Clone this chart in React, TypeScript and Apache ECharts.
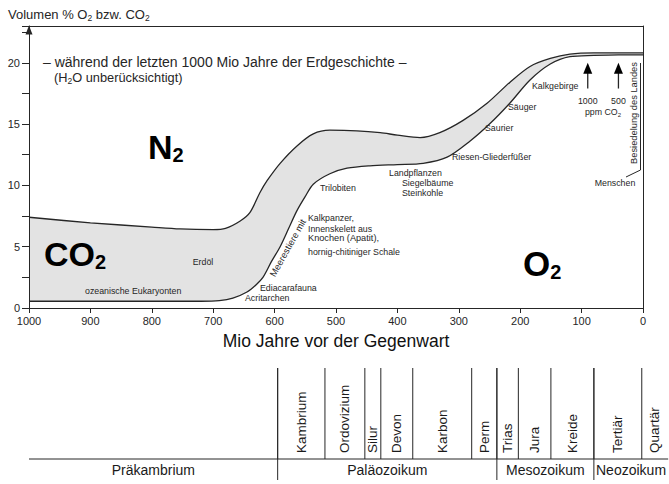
import React, { useEffect, useRef } from 'react';
import * as echarts from 'echarts';

// ---------- data ----------
// Upper boundary of grey band = O2 + CO2 (Mio Jahre vor heute -> Volumen %)
const upperMa = [1000, 900, 800, 754, 700, 680, 656, 640, 624, 612, 591, 564, 537, 510, 466, 428, 400, 363, 331, 293, 254, 217, 184, 151, 119, 80, 40, 0];
const upperVal = [7.4, 6.95, 6.6, 6.45, 6.4, 6.5, 7.1, 7.8, 9.4, 10.4, 11.8, 13.2, 14.2, 14.5, 14.45, 14.3, 14.1, 13.9, 14.3, 15.3, 16.7, 18.4, 19.7, 20.35, 20.7, 20.8, 20.8, 20.8];
// Lower boundary = O2
const lowerMa = [1000, 900, 800, 720, 690, 668, 645, 630, 619, 605, 591, 577, 564, 550, 537, 510, 482, 445, 400, 358, 319, 282, 250, 217, 184, 151, 119, 80, 40, 0];
const lowerVal = [0.55, 0.55, 0.55, 0.55, 0.6, 0.8, 1.3, 1.9, 2.5, 3.8, 5.0, 6.5, 7.9, 9.1, 10.1, 10.95, 11.4, 11.6, 11.7, 11.8, 12.3, 13.6, 15.0, 16.7, 18.6, 19.9, 20.5, 20.6, 20.65, 20.65];

// ppm CO2 arrows
const ppmLabels = ['1000', '500'];
const ppmMa = [90, 40];
const ppmBaseVal = 17.9;
const ppmTipVal = 20.0;

// Geological time scale
const periodNames = ['Kambrium', 'Ordovizium', 'Silur', 'Devon', 'Karbon', 'Perm', 'Trias', 'Jura', 'Kreide', 'Tertiär', 'Quartär'];
const periodStart = [595, 518, 453, 427, 375, 279, 238, 203, 150, 80, 2];
const eraNames = ['Präkambrium', 'Paläozoikum', 'Mesozoikum', 'Neozoikum'];
const eraStart = [1000, 595, 238, 80];
const tableEndMa = -41;

const xTicks = { min: 0, max: 1000, interval: 100 };
const yTicks = { min: 0, max: 23, interval: 2.5, labelEvery: 5 };

// ---------- styling ----------
const FONT = '"Liberation Sans", Arial, Helvetica, sans-serif';
const INK = '#262626';
const BAND = '#e3e3e3';
const ZTOP = 100;

const periodEnd = periodStart.map((_, i) => (i < periodStart.length - 1 ? periodStart[i + 1] : tableEndMa));
const eraEnd = eraStart.map((_, i) => (i < eraStart.length - 1 ? eraStart[i + 1] : tableEndMa));

function txt(text: string, x: number, y: number, size = 8.8, extra: any = {}, rotation = 0) {
  return {
    type: 'text',
    x,
    y,
    z: ZTOP,
    rotation,
    silent: true,
    style: {
      text,
      fontSize: size,
      fontFamily: FONT,
      fill: INK,
      align: 'left',
      verticalAlign: 'middle',
      ...extra,
    },
  };
}

function subText(parts: string[], x: number, y: number, size: number, subSize: number, align = 'left', lh = 16, subLh = 8) {
  const text = parts.map((p, i) => (i % 2 === 0 ? (p ? `{a|${p}}` : '') : `{s|${p}}`)).join('');
  return {
    type: 'text',
    x,
    y,
    z: ZTOP,
    silent: true,
    style: {
      text,
      fill: INK,
      align,
      verticalAlign: 'middle',
      rich: {
        a: { fontSize: size, fontFamily: FONT, lineHeight: lh, fill: INK },
        s: { fontSize: subSize, fontFamily: FONT, lineHeight: subLh, verticalAlign: 'bottom', fill: INK },
      },
    },
  };
}

function chem(base: string, x: number, y: number, size: number, subSize: number) {
  return {
    type: 'text',
    x,
    y,
    z: ZTOP,
    silent: true,
    style: {
      text: `{b|${base}}{s|2}`,
      fill: '#000',
      fontFamily: FONT,
      align: 'left',
      verticalAlign: 'middle',
      rich: {
        b: { fontSize: size, fontWeight: 'bold', fontFamily: FONT, lineHeight: size + 2, fill: '#000' },
        s: { fontSize: subSize, fontWeight: 'bold', fontFamily: FONT, lineHeight: 14, verticalAlign: 'bottom', fill: '#000' },
      },
    },
  };
}

function buildOption(): any {
  const axisLineStyle = { color: INK, width: 1 };
  return {
    animation: false,
    backgroundColor: '#fff',
    grid: [
      { left: 29, right: 26, top: 26, bottom: 176 },
      { left: 29, right: 26, top: 368, bottom: 4 },
    ],
    xAxis: [
      {
        gridIndex: 0,
        type: 'value',
        min: xTicks.min,
        max: xTicks.max,
        interval: xTicks.interval,
        inverse: true,
        position: 'bottom',
        z: 5,
        axisLine: { onZero: false, lineStyle: axisLineStyle },
        axisTick: { length: 5, lineStyle: { color: INK } },
        axisLabel: { color: INK, fontSize: 11, fontFamily: FONT, margin: 7, formatter: (v: number) => String(v) },
        splitLine: { show: false },
        name: 'Mio Jahre vor der Gegenwart',
        nameLocation: 'middle',
        nameGap: 24,
        nameTextStyle: { fontSize: 17.5, color: '#111', fontFamily: FONT },
      },
      {
        gridIndex: 0,
        type: 'value',
        min: xTicks.min,
        max: xTicks.max,
        inverse: true,
        position: 'top',
        z: 5,
        axisLine: { show: true, onZero: false, lineStyle: axisLineStyle },
        axisTick: { show: false },
        axisLabel: { show: false },
        splitLine: { show: false },
      },
      { gridIndex: 1, type: 'value', min: xTicks.min, max: xTicks.max, inverse: true, show: false },
    ],
    yAxis: [
      {
        gridIndex: 0,
        type: 'value',
        min: yTicks.min,
        max: yTicks.max,
        interval: yTicks.interval,
        position: 'left',
        z: 5,
        axisLine: {
          onZero: false,
          lineStyle: axisLineStyle,
          symbol: ['none', 'triangle'],
          symbolSize: [7, 9],
          symbolOffset: [0, -4],
        },
        axisTick: { length: 7, lineStyle: { color: INK } },
        axisLabel: {
          color: INK,
          fontSize: 11,
          fontFamily: FONT,
          margin: 9,
          formatter: (v: number) => (v % yTicks.labelEvery === 0 ? String(v) : ''),
        },
        splitLine: { show: false },
      },
      {
        gridIndex: 0,
        type: 'value',
        min: yTicks.min,
        max: yTicks.max,
        position: 'right',
        z: 5,
        axisLine: { show: true, onZero: false, lineStyle: axisLineStyle },
        axisTick: { show: false },
        axisLabel: { show: false },
        splitLine: { show: false },
      },
      { gridIndex: 1, type: 'value', min: 0, max: 112, inverse: true, show: false },
    ],
    series: [
      {
        type: 'line',
        xAxisIndex: 0,
        yAxisIndex: 0,
        data: upperMa.map((m, i) => [m, upperVal[i]]),
        smooth: 0.3,
        symbol: 'none',
        lineStyle: { color: INK, width: 1.3 },
        areaStyle: { color: BAND, opacity: 1, origin: 'start' },
        z: 2,
      },
      {
        type: 'line',
        xAxisIndex: 0,
        yAxisIndex: 0,
        data: lowerMa.map((m, i) => [m, lowerVal[i]]),
        smooth: 0.3,
        symbol: 'none',
        lineStyle: { color: INK, width: 1.3 },
        areaStyle: { color: '#fff', opacity: 1, origin: 'start' },
        z: 3,
      },
      {
        type: 'custom',
        xAxisIndex: 0,
        yAxisIndex: 0,
        z: 6,
        encode: { x: 0, y: 1 },
        data: ppmMa.map((m, i) => [m, i]),
        renderItem: (params: any, api: any) => {
          const i = api.value(1);
          const tip = api.coord([api.value(0), ppmTipVal]);
          const base = api.coord([api.value(0), ppmBaseVal]);
          return {
            type: 'group',
            children: [
              { type: 'line', shape: { x1: base[0], y1: base[1], x2: tip[0], y2: tip[1] + 9 }, style: { stroke: INK, lineWidth: 1.3 } },
              { type: 'polygon', shape: { points: [[tip[0], tip[1]], [tip[0] - 4.5, tip[1] + 11], [tip[0] + 4.5, tip[1] + 11]] }, style: { fill: '#000' } },
              { type: 'text', x: base[0], y: base[1] + 12, style: { text: ppmLabels[i], fontSize: 8.8, fontFamily: FONT, fill: INK, align: 'center', verticalAlign: 'middle' } },
            ],
          };
        },
      },
      {
        type: 'custom',
        xAxisIndex: 2,
        yAxisIndex: 2,
        encode: { x: 0, y: 2 },
        data: periodNames.map((_, i) => [periodStart[i], periodEnd[i], i]),
        renderItem: (params: any, api: any) => {
          const i = api.value(2);
          const cs = params.coordSys;
          const xs = api.coord([api.value(0), 0])[0];
          const xe = api.coord([api.value(1), 0])[0];
          const top = cs.y;
          const base = cs.y + 91;
          return {
            type: 'group',
            children: [
              { type: 'line', shape: { x1: xs, y1: top, x2: xs, y2: base }, style: { stroke: INK, lineWidth: 1 } },
              {
                type: 'text',
                x: (xs + xe) / 2,
                y: base - 6,
                rotation: Math.PI / 2,
                style: { text: periodNames[i], fontSize: 13.5, fontFamily: FONT, fill: '#1a1a1a', align: 'left', verticalAlign: 'middle' },
              },
            ],
          };
        },
      },
      {
        type: 'custom',
        xAxisIndex: 2,
        yAxisIndex: 2,
        encode: { x: 0, y: 2 },
        data: eraNames.map((_, i) => [eraStart[i], eraEnd[i], i]),
        renderItem: (params: any, api: any) => {
          const i = api.value(2);
          const cs = params.coordSys;
          const xs = api.coord([api.value(0), 0])[0];
          const xe = api.coord([api.value(1), 0])[0];
          const top = cs.y;
          const base = cs.y + 91;
          const bottom = cs.y + cs.height;
          const children: any[] = [
            { type: 'line', shape: { x1: xs, y1: base, x2: xe, y2: base }, style: { stroke: INK, lineWidth: 1 } },
            {
              type: 'text',
              x: (xs + xe) / 2,
              y: base + 11,
              style: { text: eraNames[i], fontSize: 14, fontFamily: FONT, fill: '#1a1a1a', align: 'center', verticalAlign: 'middle' },
            },
          ];
          if (i > 0) {
            children.push({ type: 'line', shape: { x1: xs, y1: top, x2: xs, y2: bottom }, style: { stroke: INK, lineWidth: 1 } });
          }
          return { type: 'group', children };
        },
      },
    ],
    graphic: [
      subText(['Volumen % O', '2', ' bzw. CO', '2'], 8, 14, 13, 8.5),
      txt('– während der letzten 1000 Mio Jahre der Erdgeschichte –', 43, 62, 14),
      subText(['(H', '2', 'O unberücksichtigt)'], 54, 77, 12.8, 8.5),
      chem('N', 148, 147, 34, 20),
      chem('CO', 44, 254, 34, 20),
      chem('O', 523, 263, 35, 20),
      txt('Erdöl', 203, 262, 8.8, { align: 'center' }),
      txt('ozeanische Eukaryonten', 85, 291, 8.8),
      txt('Acritarchen', 245, 298, 8.8),
      txt('Ediacarafauna', 260, 288, 8.8),
      txt('Trilobiten', 320, 188, 8.8),
      txt('Kalkpanzer,', 308, 218, 8.8),
      txt('Innenskelett aus', 308, 229, 8.8),
      txt('Knochen (Apatit),', 308, 238, 9.2),
      txt('hornig-chitiniger Schale', 308, 252, 8.8),
      txt('Meerestiere mit', 288, 248, 9.3, { align: 'center' }, (61 * Math.PI) / 180),
      txt('Landpflanzen', 389, 173, 8.8),
      txt('Siegelbäume', 402, 183, 8.8),
      txt('Steinkohle', 402, 193, 8.8),
      txt('Riesen-Gliederfüßer', 452, 157, 8.8),
      txt('Saurier', 485, 128, 8.8),
      txt('Säuger', 508, 107, 8.8),
      txt('Kalkgebirge', 532, 86, 8.8),
      txt('Menschen', 615, 183, 8.8, { align: 'center' }),
      subText(['ppm CO', '2'], 603, 112, 8.8, 6, 'center', 11, 6),
      txt('Besiedelung des Landes', 634, 113, 9.3, { align: 'center' }, Math.PI / 2),
      {
        type: 'polyline',
        z: ZTOP,
        silent: true,
        shape: { points: [[640.5, 63], [640.5, 170], [626, 177]] },
        style: { stroke: INK, lineWidth: 1, fill: 'none' },
      },
    ],
  };
}

export default function App() {
  const ref = useRef<HTMLDivElement>(null);
  useEffect(() => {
    document.body.style.margin = '0';
    const chart = echarts.init(ref.current!, null, { renderer: 'svg' });
    chart.setOption(buildOption());
    return () => chart.dispose();
  }, []);
  return <div ref={ref} style={{ width: 669, height: 484 }} />;
}
